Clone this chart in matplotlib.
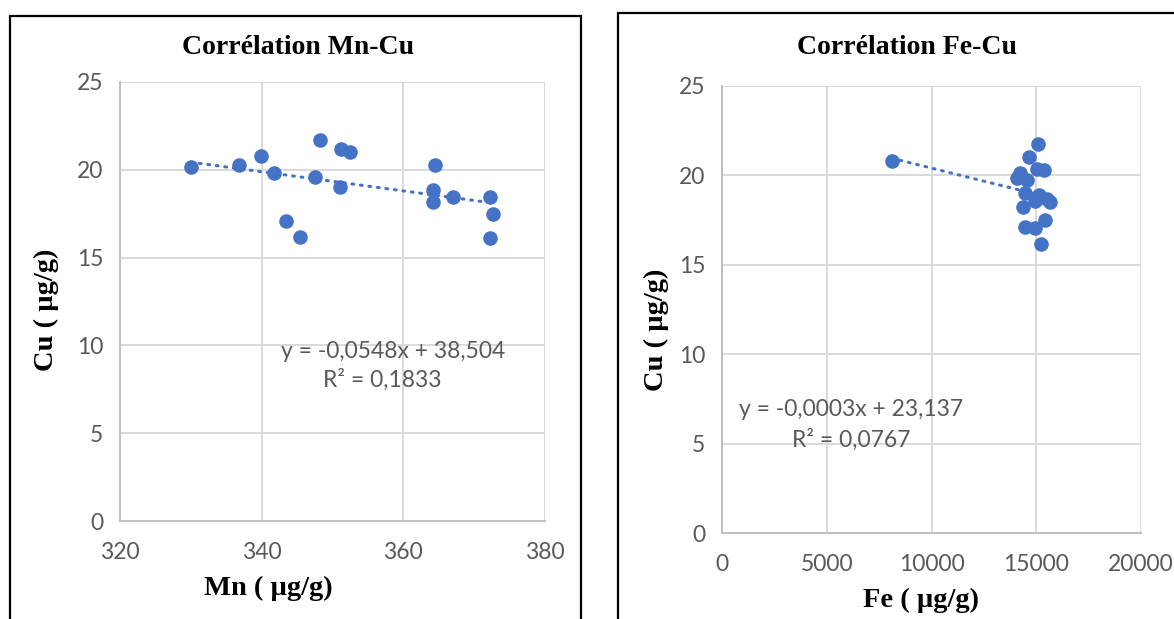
import matplotlib
matplotlib.use('Agg')
import matplotlib.pyplot as plt
import numpy as np
from matplotlib.patches import Rectangle

# data
mn = [330.0, 336.8, 339.9, 341.8, 343.4, 345.4, 347.5, 348.2, 351.2, 352.5,
      351.1, 364.4, 364.2, 364.2, 367.0, 372.3, 372.6, 372.3]
cu_mn = [20.16, 20.3, 20.8, 19.8, 17.1, 16.2, 19.6, 21.7, 21.2, 21.0,
         19.0, 20.3, 18.85, 18.15, 18.45, 18.45, 17.5, 16.1]

fe = [8100, 15070, 14640, 15380, 15050, 14230, 14070, 14550, 14470, 15110,
      15510, 15640, 14960, 14370, 15400, 14470, 14920, 15240]
cu_fe = [20.8, 21.74, 21.05, 20.3, 20.35, 20.15, 19.87, 19.74, 19.0, 18.9,
         18.7, 18.5, 18.55, 18.25, 17.5, 17.1, 17.04, 16.15]

y_ticks = [0, 5, 10, 15, 20, 25]
mn_ticks = [320, 340, 360, 380]
fe_ticks = [0, 5000, 10000, 15000, 20000]

BLUE = '#4472C4'
GREY = '#595959'
W, H = 1174, 619

plt.rcParams['font.family'] = ['Lato', 'DejaVu Sans']

fig = plt.figure(figsize=(W / 100, H / 100), dpi=100)


def px(x, y):
    return x / W, 1 - y / H


def box(x0, y0, x1, y1):
    fig.patches.append(Rectangle(px(x0, y1), (x1 - x0) / W, (y1 - y0) / H,
                                 transform=fig.transFigure, fill=False,
                                 edgecolor='black', linewidth=1.6))


def panel(rect, x, y, xticks, xlim):
    l, t, r, b = rect
    ax = fig.add_axes([l / W, 1 - b / H, (r - l) / W, (b - t) / H])
    ax.scatter(x, y, s=110, color=BLUE, zorder=3, linewidths=0)
    # linear trend line
    k, c = np.polyfit(x, y, 1)
    xs = np.array([min(x), max(x)])
    ax.plot(xs, k * xs + c, color=BLUE, lw=2.2, linestyle=(0, (0.6, 2.2)),
            dash_capstyle='round', zorder=2)
    ax.set_xlim(*xlim)
    ax.set_ylim(0, 25)
    ax.set_xticks(xticks)
    ax.set_yticks(y_ticks)
    ax.grid(True, color='#d9d9d9', lw=1.4)
    ax.set_axisbelow(True)
    for s in ['top', 'right']:
        ax.spines[s].set_visible(False)
    for s in ['left', 'bottom']:
        ax.spines[s].set_color('#bfbfbf')
        ax.spines[s].set_linewidth(1.4)
    ax.tick_params(length=0, colors=GREY, labelsize=16.5)
    ax.tick_params(axis='y', pad=12)
    ax.tick_params(axis='x', pad=15)
    return ax


panel((120, 82, 545, 521), mn, cu_mn, mn_ticks, (320, 380))
panel((722, 86, 1141, 533), fe, cu_fe, fe_ticks, (0, 20000))

serif = dict(family='Liberation Serif', weight='bold', color='black')
fig.text(*px(298, 47), 'Corrélation Mn-Cu', ha='center', va='center', fontsize=20, **serif)
fig.text(*px(907, 47), 'Corrélation Fe-Cu', ha='center', va='center', fontsize=20, **serif)
fig.text(*px(268, 588), 'Mn ( µg/g)', ha='center', va='center', fontsize=20.5, **serif)
fig.text(*px(921, 600), 'Fe ( µg/g)', ha='center', va='center', fontsize=20.5, **serif)
fig.text(*px(46, 310), 'Cu ( µg/g)', ha='center', va='center', rotation=90, fontsize=20.5, **serif)
fig.text(*px(656, 330), 'Cu ( µg/g)', ha='center', va='center', rotation=90, fontsize=20.5, **serif)

fig.text(*px(393, 351), 'y = -0,0548x + 38,504', ha='center', va='center', fontsize=16.5, color=GREY)
fig.text(*px(382, 380), 'R² = 0,1833', ha='center', va='center', fontsize=16.5, color=GREY)
fig.text(*px(851, 410), 'y = -0,0003x + 23,137', ha='center', va='center', fontsize=16.5, color=GREY)
fig.text(*px(851, 440), 'R² = 0,0767', ha='center', va='center', fontsize=16.5, color=GREY)

box(10, 16, 581, 640)
box(618, 13, 1200, 640)

fig.savefig('out.png', dpi=100)
